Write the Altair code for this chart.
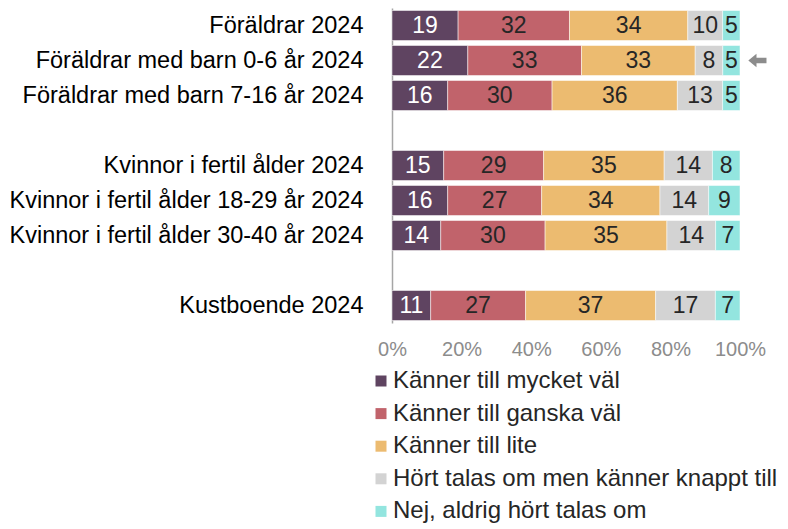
import altair as alt
import pandas as pd

groups = [
    "Föräldrar 2024",
    "Föräldrar med barn 0-6 år 2024",
    "Föräldrar med barn 7-16 år 2024",
    " ",
    "Kvinnor i fertil ålder 2024",
    "Kvinnor i fertil ålder 18-29 år 2024",
    "Kvinnor i fertil ålder 30-40 år 2024",
    "  ",
    "Kustboende 2024",
]
categories = [
    "Känner till mycket väl",
    "Känner till ganska väl",
    "Känner till lite",
    "Hört talas om men känner knappt till",
    "Nej, aldrig hört talas om",
]
colors = ["#5f4461", "#c1636b", "#ecbb70", "#d3d3d3", "#93e5df"]

values = {
    "Föräldrar 2024": [19, 32, 34, 10, 5],
    "Föräldrar med barn 0-6 år 2024": [22, 33, 33, 8, 5],
    "Föräldrar med barn 7-16 år 2024": [16, 30, 36, 13, 5],
    "Kvinnor i fertil ålder 2024": [15, 29, 35, 14, 8],
    "Kvinnor i fertil ålder 18-29 år 2024": [16, 27, 34, 14, 9],
    "Kvinnor i fertil ålder 30-40 år 2024": [14, 30, 35, 14, 7],
    "Kustboende 2024": [11, 27, 37, 17, 7],
}
highlight_row = "Föräldrar med barn 0-6 år 2024"
highlight_x = [1.05]

rows = []
for g, vals in values.items():
    total = sum(vals)
    cum = 0
    for i, (c, v) in enumerate(zip(categories, vals)):
        start = cum / total
        cum += v
        end = cum / total
        rows.append({
            "group": g, "cat": c, "order": i, "value": v,
            "start": start, "end": end, "mid": (start + end) / 2,
            "tcol": "white" if i == 0 else "dark",
        })
df = pd.DataFrame(rows)
arrow_df = pd.DataFrame({"group": [highlight_row], "x": highlight_x})

FONT = "Liberation Sans"

y_enc = alt.Y(
    "group:N",
    sort=groups,
    scale=alt.Scale(domain=groups, paddingInner=0.143, paddingOuter=0.0715),
    axis=alt.Axis(
        title=None, ticks=False, labelFontSize=23.5, labelColor="#000000",
        labelFont=FONT, labelPadding=29, domainColor="#a6a6a6", domainWidth=1.5,
        labelLimit=500,
    ),
)
x_scale = alt.Scale(domain=[0, 1], nice=False)

bars = alt.Chart(df).mark_bar(stroke="white", strokeWidth=0.5).encode(
    y=y_enc,
    x=alt.X(
        "start:Q", scale=x_scale,
        axis=alt.Axis(
            title=None, format="%", values=[0, 0.2, 0.4, 0.6, 0.8, 1.0],
            domain=False, ticks=False, grid=False, labelFontSize=20,
            labelColor="#8c8c8c", labelFont=FONT, labelPadding=16,
            labelOverlap=False, labelFlush=False,
        ),
    ),
    x2="end:Q",
    color=alt.Color(
        "cat:N",
        scale=alt.Scale(domain=categories, range=colors),
        sort=categories,
        legend=alt.Legend(
            title=None, orient="none", legendX=-23, legendY=361,
            direction="vertical", symbolType="square", symbolSize=121,
            symbolStrokeWidth=0, labelFontSize=24, labelFont=FONT,
            labelColor="#262626", rowPadding=8.6, labelOffset=0,
            labelLimit=600,
        ),
    ),
)

labels = alt.Chart(df).mark_text(fontSize=23, font=FONT).encode(
    y=alt.Y("group:N", sort=groups),
    x=alt.X("mid:Q", scale=x_scale),
    text="value:Q",
    color=alt.Color(
        "tcol:N",
        scale=alt.Scale(domain=["white", "dark"], range=["#ffffff", "#262626"]),
        legend=None,
    ),
)

arrow = alt.Chart(arrow_df).mark_point(
    shape="M -1 0 L -0.1 -0.75 L -0.1 -0.3 L 1 -0.3 L 1 0.3 L -0.1 0.3 L -0.1 0.75 Z",
    filled=True, size=330, color="#8c8c8c", opacity=1,
).encode(
    y=alt.Y("group:N", sort=groups),
    x=alt.X("x:Q", scale=x_scale),
)

chart = (
    alt.layer(bars, labels, arrow)
    .resolve_scale(color="independent")
    .properties(
        width=348, height=315,
        padding={"top": 0, "left": 0, "right": 0, "bottom": 0},
    )
    .configure_view(stroke=None)
)

chart.save("out.html", embed_options={"renderer": "svg", "actions": False})
